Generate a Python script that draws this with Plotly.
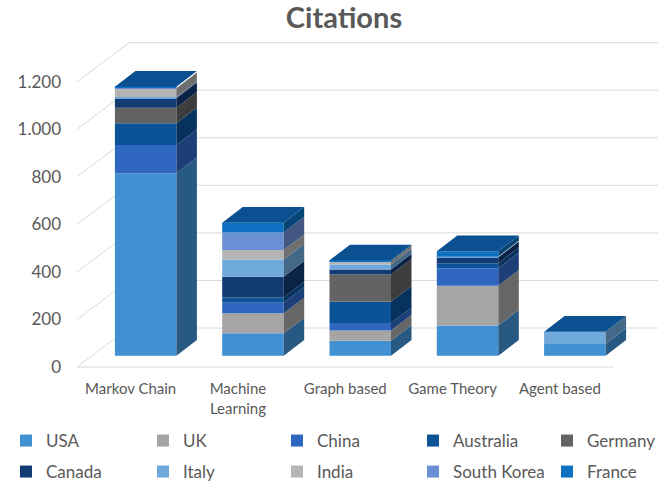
import plotly.graph_objects as go

# ---- data -------------------------------------------------------------
categories = ["Markov Chain", "Machine<br>Learning", "Graph based", "Game Theory", "Agent based"]
countries = ["USA", "UK", "China", "Australia", "Germany",
             "Canada", "Italy", "India", "South Korea", "France"]

usa = [767, 94, 63, 127, 49]
uk = [0, 84, 43, 167, 0]
china = [119, 45, 31, 74, 0]
australia = [92, 22, 90, 21, 0]
germany = [65, 0, 114, 0, 0]
canada = [40, 87, 21, 25, 0]
italy = [5, 73, 22, 3, 52]
india = [37, 39, 13, 0, 0]
south_korea = [3, 74, 0, 0, 0]
france = [3, 41, 4, 22, 0]

series = [usa, uk, china, australia, germany, canada, italy, india, south_korea, france]

y_tick_vals = [0, 200, 400, 600, 800, 1000, 1200]
y_tick_text = ["0", "200", "400", "600", "800", "1.000", "1.200"]

colors = ["#4190d2", "#a5a5a5", "#2f66c0", "#0b5296", "#636363",
          "#123a73", "#6fa9dc", "#b4b4b4", "#6b8fd4", "#0e70c0"]
top_color = "#0b5192"

# ---- geometry (pixels -> axis units) -----------------------------------
W, H = 667, 482
PX_PER_CAT = 107.3     # horizontal pixels per category slot
PX_PER_VAL = 0.2378    # vertical pixels per citation
FLOOR_LEFT_PX = 77     # x pixel of the front-left floor corner
FLOOR_Y_PX = 367       # y pixel of the front floor edge
M_L, M_R, M_T, M_B = 70, 0, 0, 110

x_range = [-0.5 - (FLOOR_LEFT_PX - M_L) / PX_PER_CAT,
           -0.5 + (W - M_R - FLOOR_LEFT_PX) / PX_PER_CAT]
y_range = [-((H - M_B) - FLOOR_Y_PX) / PX_PER_VAL,
           (FLOOR_Y_PX - M_T) / PX_PER_VAL]


def dx(px):
    return px / PX_PER_CAT


def dy(px):
    return px / PX_PER_VAL


# oblique depth of walls and bars
WALL_DX, WALL_DY = dx(52), dy(39)
BACK_RIGHT_X = -0.5 + dx(658 - FLOOR_LEFT_PX)
FRONT_DX, FRONT_DY = dx(15), dy(11.3)
SIDE_DX, SIDE_DY = dx(20.5), dy(15.7)
BAR_W = dx(61.5)


def darker(hex_color, f):
    r, g, b = (int(hex_color[i:i + 2], 16) for i in (1, 3, 5))
    return "#{:02x}{:02x}{:02x}".format(int(r * f), int(g * f), int(b * f))


fig = go.Figure()

# ---- walls: slanted side-wall gridlines + back-wall gridlines ----------
shapes = []
grid_col = "#d9d9d9"
for v in y_tick_vals:
    shapes.append(dict(type="line", xref="x", yref="y", layer="below",
                       x0=-0.5, y0=v, x1=-0.5 + WALL_DX, y1=v + WALL_DY,
                       line=dict(color=grid_col, width=1)))
    shapes.append(dict(type="line", xref="x", yref="y", layer="below",
                       x0=-0.5 + WALL_DX, y0=v + WALL_DY, x1=BACK_RIGHT_X, y1=v + WALL_DY,
                       line=dict(color=grid_col, width=1)))
# front edge of the floor
shapes.append(dict(type="line", xref="x", yref="y", layer="below",
                   x0=-0.5, y0=0, x1=len(categories) - 0.5, y1=0,
                   line=dict(color=grid_col, width=1)))

# ---- legend layout: one single-entry legend per grid cell (5 x 2) ------
text_col = "#595959"
COL_X = [26, 163, 297, 433, 567]     # marker centres of the legend columns
ROW_Y = [441, 472]
legend_ids = ["legend"] + ["legend%d" % k for k in range(2, len(countries) + 1)]
legend_layouts = {}
for k, lid in enumerate(legend_ids):
    row, col = divmod(k, 5)
    legend_layouts[lid] = dict(
        orientation="h", xref="container", yref="container",
        x=(COL_X[col] - 20) / W, y=1 - ROW_Y[row] / H,
        xanchor="left", yanchor="middle",
        font=dict(family="Lato", size=17, color=text_col),
        bgcolor="rgba(0,0,0,0)")

# ---- stacked bars ------------------------------------------------------
n = len(categories)
xs = [i + FRONT_DX for i in range(n)]
cum = [0.0] * n
side_traces = []
for k, (name, vals, col) in enumerate(zip(countries, series, colors)):
    bases = [FRONT_DY + c for c in cum]
    fig.add_trace(go.Bar(
        x=xs, y=vals, base=bases, width=BAR_W, name=name,
        marker=dict(color=col, line=dict(width=0)),
        legend=legend_ids[k], hoverinfo="skip"))
    # right-hand side faces
    sx, sy = [], []
    for i in range(n):
        if vals[i] <= 0:
            continue
        xr = xs[i] + BAR_W / 2
        b = bases[i]
        t = b + vals[i]
        sx += [xr, xr + SIDE_DX, xr + SIDE_DX, xr, xr, None]
        sy += [b, b + SIDE_DY, t + SIDE_DY, t, b, None]
    side_traces.append(go.Scatter(
        x=sx, y=sy, mode="lines", fill="toself", fillcolor=darker(col, 0.62),
        line=dict(width=0), showlegend=False, hoverinfo="skip"))
    cum = [c + v for c, v in zip(cum, vals)]

for tr in side_traces:
    fig.add_trace(tr)

# top faces
tx, ty = [], []
for i in range(n):
    xl = xs[i] - BAR_W / 2
    xr = xs[i] + BAR_W / 2
    t = FRONT_DY + cum[i]
    tx += [xl, xr, xr + SIDE_DX, xl + SIDE_DX, xl, None]
    ty += [t, t, t + SIDE_DY, t + SIDE_DY, t, None]
fig.add_trace(go.Scatter(
    x=tx, y=ty, mode="lines", fill="toself", fillcolor=top_color,
    line=dict(width=0), showlegend=False, hoverinfo="skip"))

fig.update_layout(
    width=W, height=H,
    margin=dict(l=M_L, r=M_R, t=M_T, b=M_B, autoexpand=False),
    paper_bgcolor="white", plot_bgcolor="white",
    barmode="overlay",
    title=dict(text="<b>Citations</b>", x=344 / W, y=1 - 18 / H,
               xref="container", yref="container",
               xanchor="center", yanchor="middle",
               font=dict(family="Lato", size=29, color=text_col)),
    shapes=shapes,
    xaxis=dict(range=x_range, tickmode="array",
               tickvals=list(range(n)), ticktext=categories,
               showgrid=False, zeroline=False, showline=False, ticks="",
               automargin=False, ticklabelstandoff=6,
               tickfont=dict(family="Lato", size=15, color=text_col)),
    yaxis=dict(range=y_range, tickmode="array",
               tickvals=y_tick_vals, ticktext=y_tick_text,
               showgrid=False, zeroline=False, showline=False, ticks="",
               automargin=False, ticklabelstandoff=8,
               tickfont=dict(family="Lato", size=17, color=text_col)),
    **legend_layouts,
)

fig.write_html("out.html")
